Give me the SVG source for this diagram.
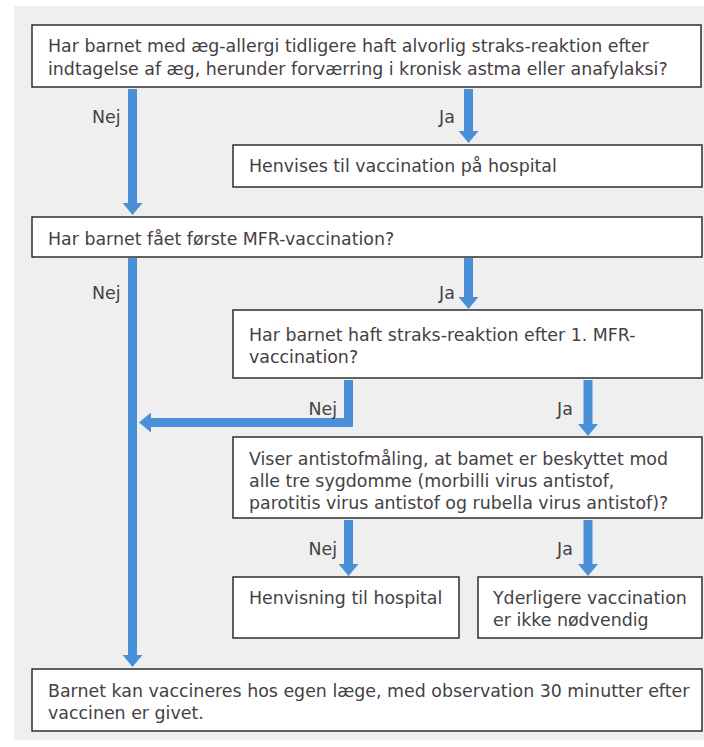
<svg xmlns="http://www.w3.org/2000/svg" width="704" height="747" viewBox="0 0 704 747">
<defs>
<marker id="ah" markerUnits="userSpaceOnUse" viewBox="0 0 12 20" markerWidth="12" markerHeight="20" refX="0" refY="10" orient="auto">
<path d="M0,0 L12,10 L0,20 z" fill="#4a90d9"/>
</marker>
<style>
.box{fill:#fff;stroke:#2e2e2e;stroke-width:1.5}
.t{font-family:"DejaVu Sans",sans-serif;font-size:17.4px;fill:#454045}
.c{fill:none;stroke:#4a90d9;stroke-width:9;marker-end:url(#ah)}
</style>
</defs>
<rect x="0" y="0" width="704" height="747" fill="#fff"/>
<rect x="14" y="6" width="690" height="734" fill="#efefef"/>
<g id="connectors">
<path class="c" d="M132.5,89 V203"/>
<path class="c" d="M468.5,89 V131"/>
<path class="c" d="M132.5,258 V655"/>
<path class="c" d="M468.5,258 V297"/>
<path class="c" d="M348.5,380 V422.5 H151"/>
<path class="c" d="M588,380 V424"/>
<path class="c" d="M348.5,520 V564"/>
<path class="c" d="M588,520 V564"/>
<text class="t" x="92" y="123">Nej</text>
<text class="t" x="439" y="123">Ja</text>
<text class="t" x="92" y="299">Nej</text>
<text class="t" x="439" y="299">Ja</text>
<text class="t" x="337" y="415" text-anchor="end">Nej</text>
<text class="t" x="557" y="415">Ja</text>
<text class="t" x="337" y="555" text-anchor="end">Nej</text>
<text class="t" x="557" y="555">Ja</text>
</g>
<g id="q1">
<rect class="box" x="32" y="25" width="669" height="62"/>
<text class="t" x="48" y="52">Har barnet med æg-allergi tidligere haft alvorlig straks-reaktion efter</text>
<text class="t" x="48" y="75">indtagelse af æg, herunder forværring i kronisk astma eller anafylaksi?</text>
</g>
<g id="hospital1">
<rect class="box" x="233" y="145" width="469" height="42"/>
<text class="t" x="249" y="172">Henvises til vaccination på hospital</text>
</g>
<g id="q2">
<rect class="box" x="32" y="217" width="670" height="40"/>
<text class="t" x="48" y="245">Har barnet fået første MFR-vaccination?</text>
</g>
<g id="q3">
<rect class="box" x="233" y="310" width="469" height="68"/>
<text class="t" x="249" y="341">Har barnet haft straks-reaktion efter 1. MFR-</text>
<text class="t" x="249" y="363">vaccination?</text>
</g>
<g id="q4">
<rect class="box" x="233" y="437" width="469" height="81"/>
<text class="t" x="249" y="465">Viser antistofmåling, at bamet er beskyttet mod</text>
<text class="t" x="249" y="487">alle tre sygdomme (morbilli virus antistof,</text>
<text class="t" x="249" y="509">parotitis virus antistof og rubella virus antistof)?</text>
</g>
<g id="hospital2">
<rect class="box" x="233" y="577" width="226" height="61"/>
<text class="t" x="249" y="604">Henvisning til hospital</text>
</g>
<g id="noneed">
<rect class="box" x="478" y="577" width="224" height="61"/>
<text class="t" x="493" y="604">Yderligere vaccination</text>
<text class="t" x="493" y="626">er ikke nødvendig</text>
</g>
<g id="own">
<rect class="box" x="32" y="669" width="670" height="62"/>
<text class="t" x="48" y="697">Barnet kan vaccineres hos egen læge, med observation 30 minutter efter</text>
<text class="t" x="48" y="719">vaccinen er givet.</text>
</g>
</svg>
